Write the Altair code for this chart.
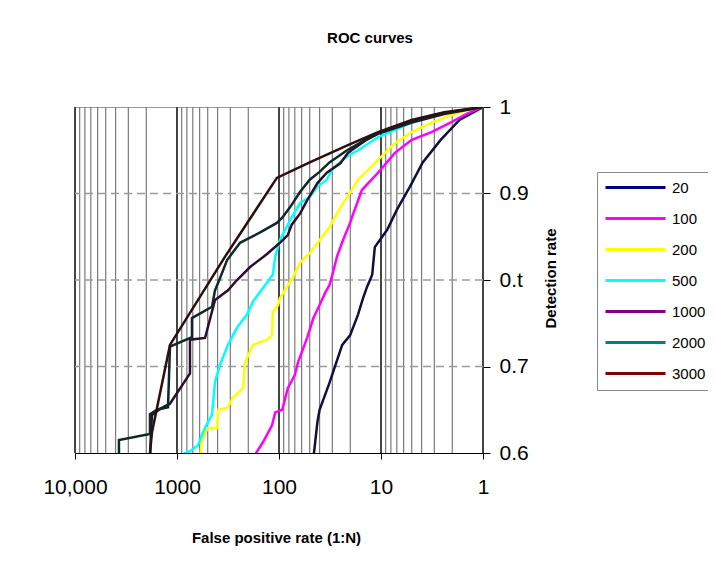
import altair as alt
import pandas as pd

series_names = ["20", "100", "200", "500", "1000", "2000", "3000"]
legend_colors = ["#000080", "#ff00ff", "#ffff00", "#00ffff", "#800080", "#008080", "#800000"]
line_colors = ["#10103c", "#ff00ff", "#ffff00", "#00ffff", "#2b102b", "#0f2828", "#2b1010"]

n20 = [46, 42, 40, 32, 24, 20.1, 16.8, 15.0, 13.7, 12.2, 11.5, 8.7, 7.0, 5.2, 3.9, 2.6, 1.7, 1]
r20 = [0.594, 0.636, 0.650, 0.681, 0.725, 0.736, 0.760, 0.779, 0.792, 0.806, 0.838, 0.858, 0.881, 0.908, 0.936, 0.962, 0.985, 1.0]

n100 = [180, 143, 117, 109, 93, 82, 70, 65, 53, 46, 40, 35, 32, 30, 27, 23.6, 20.1, 19.2, 15.4, 10.7, 7.3, 5.0, 3.2, 2.0, 1.4, 1]
r100 = [0.594, 0.613, 0.632, 0.647, 0.650, 0.675, 0.690, 0.705, 0.733, 0.756, 0.771, 0.786, 0.794, 0.806, 0.827, 0.846, 0.866, 0.873, 0.904, 0.924, 0.947, 0.962, 0.971, 0.983, 0.993, 1.0]

n200 = [595, 569, 497, 405, 396, 323, 282, 225, 215, 180, 131, 117, 115, 102, 98, 73, 62, 50, 40, 32, 25, 20.1, 16.8, 10.7, 7.3, 5.0, 3.2, 2.0, 1.3, 1]
r200 = [0.592, 0.617, 0.629, 0.629, 0.650, 0.652, 0.664, 0.675, 0.705, 0.725, 0.731, 0.736, 0.763, 0.771, 0.779, 0.803, 0.820, 0.831, 0.846, 0.861, 0.884, 0.901, 0.916, 0.939, 0.958, 0.971, 0.982, 0.991, 0.998, 1.0]

n500 = [1094, 746, 622, 556, 497, 454, 424, 379, 316, 258, 206, 180, 143, 115, 109, 98, 78, 62, 50, 42, 34, 29.6, 23.6, 20.1, 16.8, 10.7, 5.0, 2.4, 1]
r500 = [0.594, 0.602, 0.609, 0.624, 0.636, 0.644, 0.682, 0.702, 0.725, 0.745, 0.760, 0.775, 0.791, 0.806, 0.827, 0.846, 0.869, 0.889, 0.896, 0.908, 0.916, 0.929, 0.939, 0.945, 0.950, 0.965, 0.982, 0.993, 1.0]

n1000 = [1841, 1800, 1758, 1468, 1172, 746, 746, 531, 424, 316, 258, 192, 131, 98, 82, 75, 62, 53, 42, 34, 25, 21.1, 14.3, 10.7, 5.0, 2.4, 1]
r1000 = [0.592, 0.624, 0.644, 0.651, 0.657, 0.692, 0.731, 0.733, 0.777, 0.788, 0.800, 0.815, 0.830, 0.843, 0.852, 0.864, 0.877, 0.892, 0.912, 0.924, 0.935, 0.947, 0.961, 0.969, 0.982, 0.992, 1.0]

n2000 = [3707, 3707, 1841, 1841, 1570, 1225, 1172, 713, 713, 454, 424, 379, 323, 241, 153, 105, 93, 78, 62, 50, 40, 32, 21.5, 14.3, 10.7, 5.0, 2.4, 1]
r2000 = [0.592, 0.615, 0.622, 0.645, 0.650, 0.653, 0.723, 0.734, 0.756, 0.769, 0.788, 0.802, 0.823, 0.843, 0.855, 0.866, 0.872, 0.884, 0.902, 0.916, 0.925, 0.936, 0.950, 0.962, 0.970, 0.983, 0.993, 1.0]

n3000 = [1841, 1841, 1758, 1172, 338, 105, 50, 21.1, 10.7, 5.0, 2.4, 1]
r3000 = [0.592, 0.600, 0.624, 0.725, 0.827, 0.918, 0.936, 0.956, 0.971, 0.985, 0.994, 1.0]

x_decades = [1, 10, 100, 1000, 10000]
x_minor = [2, 3, 4, 5, 6, 7, 8, 9, 20, 30, 40, 50, 60, 70, 80, 90,
           200, 300, 400, 500, 600, 700, 800, 900, 2000, 3000, 4000, 5000, 6000, 7000, 8000, 9000]
y_ticks = [0.6, 0.7, 0.8, 0.9, 1.0]
y_dashed = [0.7, 0.8, 0.9]

all_n = [n20, n100, n200, n500, n1000, n2000, n3000]
all_r = [r20, r100, r200, r500, r1000, r2000, r3000]
rows = []
for name, ns, rs in zip(series_names, all_n, all_r):
    for i, (n, r) in enumerate(zip(ns, rs)):
        rows.append({"series": name, "N": n, "rate": r, "idx": i})
df = pd.DataFrame(rows)

xscale = alt.Scale(type="log", domain=[1, 10000], reverse=True, nice=False)
yscale = alt.Scale(domain=[0.6, 1.0], nice=False, zero=False)

x_axis = alt.Axis(values=x_decades, grid=False, tickSize=6, tickColor="black", domainColor="black",
                  labelExpr="datum.value == 10000 ? '10,000' : format(datum.value, 'd')",
                  labelFontSize=21, labelPadding=17, labelFlush=False, labelOverlap=False,
                  labelColor="black",
                  title="False positive rate (1:N)", titleFontSize=15, titleFontWeight="bold",
                  titleX=201, titleY=84, titleAlign="center", titleBaseline="middle", titleColor="black")
y_axis = alt.Axis(orient="right", values=y_ticks, grid=False, tickSize=7, tickColor="black", domainColor="black",
                  labelExpr="datum.value == 0.8 ? '0.t' : (datum.value == 1 ? '1' : format(datum.value, '.1f'))",
                  labelFontSize=21, labelPadding=9, labelColor="black", labelFlush=False,
                  title="Detection rate", titleFontSize=15, titleFontWeight="bold", titleAngle=270,
                  titleX=67, titleY=171, titleAlign="center", titleBaseline="middle", titleColor="black")

minor = alt.Chart(pd.DataFrame({"N": x_minor})).mark_rule(color="#7a7a7a", strokeWidth=1.2).encode(
    x=alt.X("N:Q", scale=xscale, axis=x_axis))
major = alt.Chart(pd.DataFrame({"N": x_decades})).mark_rule(color="#444444", strokeWidth=2).encode(
    x=alt.X("N:Q", scale=xscale, axis=x_axis))
hgrid = alt.Chart(pd.DataFrame({"rate": y_dashed})).mark_rule(color="#9a9a9a", strokeWidth=1.5, strokeDash=[8, 5]).encode(
    y=alt.Y("rate:Q", scale=yscale, axis=y_axis))

lines = alt.Chart(df).mark_line(strokeWidth=2.5, clip=True).encode(
    x=alt.X("N:Q", scale=xscale, axis=x_axis),
    y=alt.Y("rate:Q", scale=yscale, axis=y_axis),
    color=alt.Color("series:N", scale=alt.Scale(domain=series_names, range=line_colors), legend=None),
    order="idx:Q",
)

legend_layer = alt.Chart(df).mark_line(opacity=0, clip=True).encode(
    x=alt.X("N:Q", scale=xscale, axis=x_axis),
    y=alt.Y("rate:Q", scale=yscale, axis=y_axis),
    color=alt.Color("series:N", scale=alt.Scale(domain=series_names, range=legend_colors),
                    legend=alt.Legend(title=None, orient="none", legendX=522, legendY=65,
                                      symbolType="M-6,0H6", symbolSize=100, symbolStrokeWidth=3,
                                      symbolOpacity=1, symbolOffset=23, labelOffset=29,
                                      labelFontSize=15, labelColor="black", padding=8,
                                      strokeColor="#8a8a8a", fillColor="white", rowPadding=15)),
    order="idx:Q",
)

chart = alt.layer(minor, major, hgrid, lines, legend_layer).resolve_scale(color="independent").properties(
    width=408, height=346,
    padding={"left": 67, "top": 99, "right": 225, "bottom": 110},
    autosize=alt.AutoSizeParams(type="none"),
    title=alt.TitleParams("ROC curves", fontSize=15, fontWeight="bold", anchor="middle", dx=91,
                          offset=38, baseline="alphabetic", color="black"),
).configure(font="Liberation Sans").configure_view(stroke="#999999")

chart.save("out.html", embed_options={"renderer": "svg", "actions": False})
